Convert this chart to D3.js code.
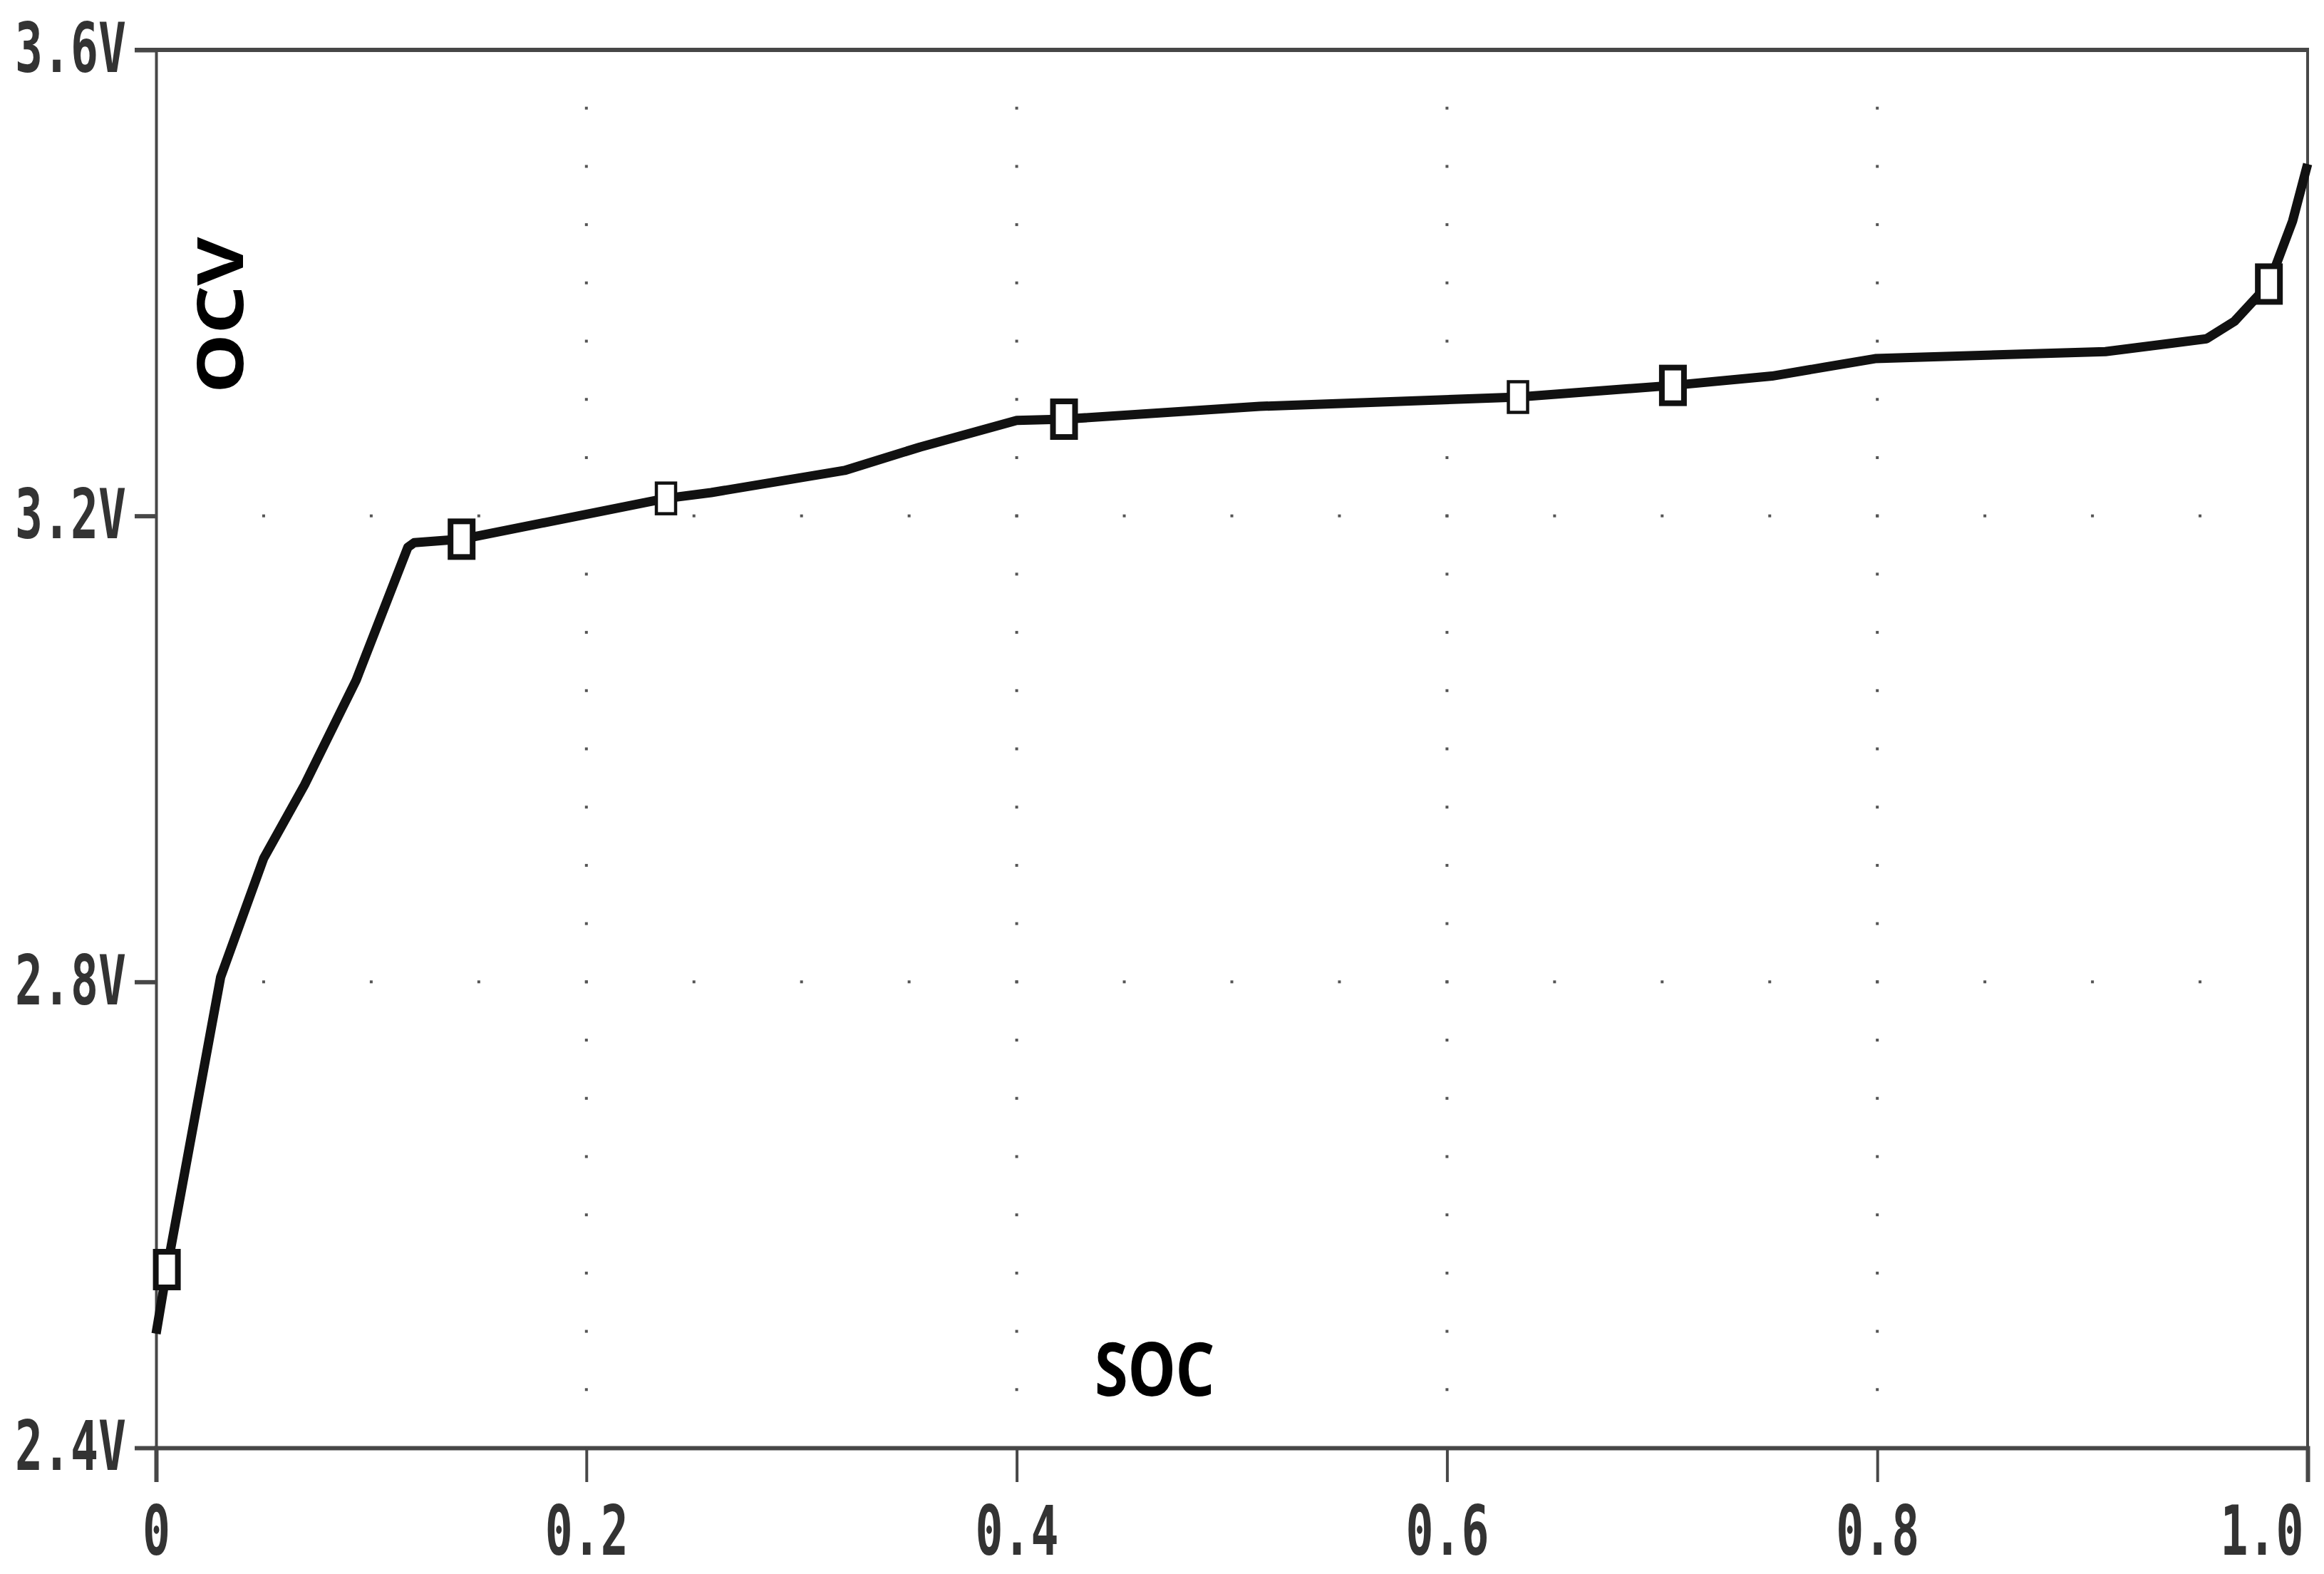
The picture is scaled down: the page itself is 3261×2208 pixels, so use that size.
<!DOCTYPE html>
<html>
<head>
<meta charset="utf-8">
<script src="https://cdn.jsdelivr.net/npm/d3@7"></script>
<style>
  body { margin: 0; background: #fff; }
  svg { display: block; }
</style>
</head>
<body>
<svg id="chart"></svg>
<script>
// OCV vs SOC curve
const socValues = [0, 0.005, 0.03, 0.05, 0.069, 0.093, 0.117, 0.12, 0.142, 0.237, 0.258, 0.32, 0.355, 0.40, 0.422, 0.513, 0.633, 0.705, 0.751, 0.799, 0.906, 0.953, 0.966, 0.982, 0.993, 1.0];
const ocvValues = [2.498, 2.553, 2.804, 2.906, 2.969, 3.059, 3.173, 3.177, 3.180, 3.215, 3.220, 3.239, 3.259, 3.282, 3.283, 3.294, 3.302, 3.312, 3.320, 3.335, 3.341, 3.352, 3.367, 3.399, 3.453, 3.502];

// square markers sitting on the curve (two kinds: heavy and light)
const heavyMarkerSoc = [0.005, 0.142, 0.422, 0.705, 0.982];
const heavyMarkerOcv = [2.553, 3.180, 3.283, 3.312, 3.399];
const lightMarkerSoc = [0.237, 0.633];
const lightMarkerOcv = [3.215, 3.302];

// tick labels
const xTicks = [0, 0.2, 0.4, 0.6, 0.8, 1.0];
const xTickLabels = ["0", "0.2", "0.4", "0.6", "0.8", "1.0"];
const yTicks = [2.4, 2.8, 3.2, 3.6];
const yTickLabels = ["2.4V", "2.8V", "3.2V", "3.6V"];

// dotted grid lines
const gridSoc = [0.2, 0.4, 0.6, 0.8];
const gridOcv = [2.8, 3.2];

let width = 3261, height = 2208;
var margin = {top: 70, right: 23, bottom: 177, left: 219};

let svg = d3.select("#chart")
    .attr("width", width)
    .attr("height", height);

const x = d3.scaleLinear().domain([0, 1]).range([margin.left, width - margin.right]);
const y = d3.scaleLinear().domain([2.4, 3.6]).range([height - margin.bottom, margin.top]);

const axisColor = "#474747";
const squeeze = 0.675; // tick label glyphs are tall and narrow

// grid dots: along the vertical lines every 0.05 V, along horizontal lines every 0.05 SOC
let dots = [];
gridSoc.forEach(s => {
    d3.range(2.45, 3.56, 0.05).forEach(v => dots.push([s, v]));
});
gridOcv.forEach(v => {
    d3.range(0.05, 0.96, 0.05).forEach(s => dots.push([s, v]));
});
svg.append("g")
    .selectAll("rect")
    .data(dots)
    .enter()
    .append("rect")
        .attr("x", d => x(d[0]) - 2)
        .attr("y", d => y(d[1]) - 2)
        .attr("width", 4)
        .attr("height", 4)
        .style("fill", "#555");

// frame
svg.append("line")
    .attr("x1", x(0) - 30).attr("x2", x(1) + 2)
    .attr("y1", y(3.6)).attr("y2", y(3.6))
    .style("stroke", axisColor).style("stroke-width", 6);
svg.append("line")
    .attr("x1", x(1)).attr("x2", x(1))
    .attr("y1", y(3.6)).attr("y2", y(2.4))
    .style("stroke", axisColor).style("stroke-width", 4);

// left axis
let yAxis = svg.append("g")
    .attr("transform", "translate(" + margin.left + ",0)")
    .call(d3.axisLeft(y).tickValues(yTicks).tickSize(30).tickPadding(12)
        .tickFormat((d, i) => yTickLabels[i]));
yAxis.select(".domain").style("stroke", axisColor).style("stroke-width", 4);
yAxis.selectAll(".tick line").style("stroke", axisColor).style("stroke-width", 6);

// bottom axis
let xAxis = svg.append("g")
    .attr("transform", "translate(0," + (height - margin.bottom) + ")")
    .call(d3.axisBottom(x).tickValues(xTicks).tickSize(48).tickPadding(34)
        .tickFormat((d, i) => xTickLabels[i]));
xAxis.select(".domain").style("stroke", axisColor).style("stroke-width", 6);
xAxis.selectAll(".tick line").style("stroke", axisColor).style("stroke-width", 4);

svg.selectAll(".tick text")
    .style("font-family", "'DejaVu Sans Mono', monospace")
    .style("font-weight", "bold")
    .style("font-size", "96px")
    .style("fill", "#333")
    .attr("x", function() { return (+this.getAttribute("x") || 0) / squeeze; })
    .attr("transform", "scale(" + squeeze + ",1)");
// last x label would run off the page, so it ends at the axis
xAxis.selectAll(".tick text").filter(d => d === 1)
    .attr("text-anchor", "end")
    .attr("x", -6 / squeeze);

// curve
const points = socValues.map((s, i) => [s, ocvValues[i]]);
svg.append("path")
    .datum(points)
    .attr("d", d3.line().x(d => x(d[0])).y(d => y(d[1])))
    .style("fill", "none")
    .style("stroke", "#111")
    .style("stroke-width", 13)
    .style("stroke-linejoin", "round");

// markers
function drawMarkers(socs, ocvs, w, h, sw) {
    svg.append("g")
        .selectAll("rect")
        .data(socs.map((s, i) => [s, ocvs[i]]))
        .enter()
        .append("rect")
            .attr("x", d => x(d[0]) - w / 2)
            .attr("y", d => y(d[1]) - h / 2)
            .attr("width", w)
            .attr("height", h)
            .style("fill", "#fff")
            .style("stroke", "#111")
            .style("stroke-width", sw);
}
drawMarkers(heavyMarkerSoc, heavyMarkerOcv, 31, 50, 8);
drawMarkers(lightMarkerSoc, lightMarkerOcv, 27, 43, 4.5);

// axis titles
svg.append("text")
    .attr("transform", "translate(341,442) rotate(-90)")
    .attr("text-anchor", "middle")
    .attr("textLength", 219)
    .attr("lengthAdjust", "spacingAndGlyphs")
    .style("font-family", "'Noto Sans', sans-serif")
    .style("font-weight", "bold")
    .style("font-size", "90px")
    .text("OCV");

svg.append("text")
    .attr("x", 1620)
    .attr("y", 1958)
    .attr("text-anchor", "middle")
    .attr("textLength", 168)
    .attr("lengthAdjust", "spacingAndGlyphs")
    .style("font-family", "'Noto Sans', sans-serif")
    .style("font-weight", "bold")
    .style("font-size", "104px")
    .text("SOC");
</script>
</body>
</html>
